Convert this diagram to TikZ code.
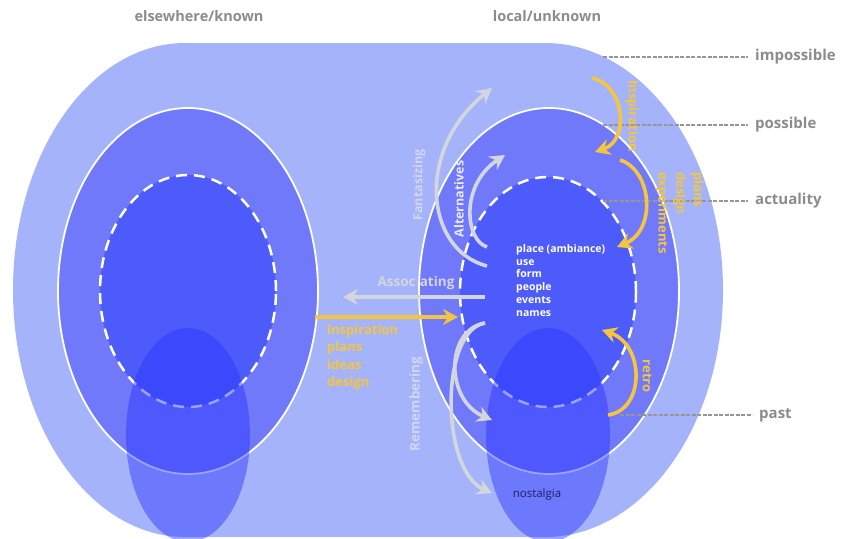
\documentclass[tikz,border=0pt]{standalone}
\usepackage{fontspec}
\setmainfont{Open Sans}
\usetikzlibrary{arrows.meta}
\definecolor{outerc}{RGB}{165,180,250}
\definecolor{midc}{RGB}{112,121,250}
\definecolor{innerc}{RGB}{76,91,250}
\definecolor{pastc}{RGB}{40,50,255}
\definecolor{graytxt}{RGB}{140,140,140}
\definecolor{arrgray}{RGB}{212,214,222}
\definecolor{paletxt}{RGB}{210,214,238}
\definecolor{yel}{RGB}{245,197,62}
\definecolor{navy}{RGB}{30,30,100}
\definecolor{leader}{RGB}{150,150,150}
\begin{document}
\begin{tikzpicture}[x=1pt,y=-1pt,
  tipstyle/.style={-{Stealth[length=15pt,width=16pt,inset=5pt]}},
  garrow/.style={draw=arrgray,line width=3.6pt,tipstyle},
  yarrow/.style={draw=yel,line width=3.6pt,tipstyle},
  leaderline/.style={draw=leader,line width=2pt,dash pattern=on 4pt off 1.5pt},
  toplabel/.style={text=graytxt,font=\bfseries\fontsize{14.5}{17}\selectfont,inner sep=0pt},
  levellabel/.style={text=graytxt,font=\bfseries\fontsize{15}{18}\selectfont,anchor=west,inner sep=0pt},
  midring/.style={fill=midc,draw=white,line width=1.8pt},
  innerring/.style={fill=innerc,draw=white,line width=2.5pt,dash pattern=on 11pt off 7pt},
  pastblob/.style={fill=pastc,fill opacity=0.45},
  paletext/.style={text=paletxt,font=\bfseries\fontsize{12.5}{15}\selectfont,inner sep=0pt},
  yeltext/.style={text=yel,font=\bfseries\fontsize{13}{17.6}\selectfont,inner sep=0pt}
]
\useasboundingbox (0,0) rectangle (850,538);
\fill[white] (0,0) rectangle (850,538);
% outer shape
\fill[outerc] (185,290) ellipse [x radius=172pt, y radius=247pt];
\fill[outerc] (545,290) ellipse [x radius=178pt, y radius=247pt];
\fill[outerc] (185,43) rectangle (545,537);
% left side
\draw[midring] (188,291) ellipse [x radius=130pt, y radius=183pt];
\draw[innerring] (188,291) ellipse [x radius=88pt, y radius=116pt];
\fill[pastblob] (188,435) ellipse [x radius=62pt, y radius=107pt];
% right side
\draw[midring] (549,291) ellipse [x radius=130pt, y radius=183pt];
\draw[innerring] (548,292) ellipse [x radius=88pt, y radius=115pt];
\fill[pastblob] (548,435) ellipse [x radius=62pt, y radius=107pt];
% level leader lines
\coordinate (impS) at (603,57);  \coordinate (impE) at (748,57);
\coordinate (posS) at (603,125); \coordinate (posE) at (748,125);
\coordinate (actS) at (603,201); \coordinate (actE) at (748,201);
\coordinate (pasS) at (620,415); \coordinate (pasE) at (752,415);
\draw[leaderline] (impS) -- (impE);
\draw[leaderline] (posS) -- (posE);
\draw[leaderline] (actS) -- (actE);
\draw[leaderline] (pasS) -- (pasE);
\node[levellabel] (limp) at (755,57) {impossible};
\node[levellabel] (lpos) at (755,125) {possible};
\node[levellabel] (lact) at (755,201) {actuality};
\node[levellabel] (lpas) at (759,415) {past};
% top labels
\node[toplabel] (known) at (199,16) {elsewhere/known};
\node[toplabel] (unknown) at (547,16) {local/unknown};
% inner list
\node[anchor=north west,align=left,inner sep=0pt,text=white,font=\bfseries\fontsize{10.5}{12.9}\selectfont] (list) at (516,244)
  {place (ambiance)\\use\\form\\people\\events\\names};
% left yellow list
\node[yeltext,anchor=north west,align=left] (ylist) at (327,324) {inspiration\\plans\\ideas\\design};
% nostalgia
\node[text=navy,font=\fontsize{11.5}{14}\selectfont,inner sep=0pt] (nost) at (537,495) {nostalgia};
% gray arrows
\coordinate (fanS) at (487,266); \coordinate (fanE) at (492,88);
\coordinate (altS) at (487,247); \coordinate (altE) at (505,155);
\coordinate (remS) at (485,323); \coordinate (remAE) at (492,420); \coordinate (remBE) at (492,493);
\coordinate (assS) at (485,297); \coordinate (assE) at (343,297);
\draw[garrow] (fanS) .. controls (425,250) and (415,150) .. (fanE);
\draw[garrow] (altS) .. controls (465,240) and (460,185) .. (altE);
\draw[garrow] (remS) .. controls (445,330) and (445,400) .. (remAE);
\draw[garrow] (remS) .. controls (440,330) and (440,470) .. (remBE);
\draw[garrow] (assS) -- (assE);
\node[text=arrgray,font=\bfseries\fontsize{13.5}{16}\selectfont,inner sep=0pt] (assoc) at (416,283) {Assoc\hphantom{i}ating};
\node[paletext,rotate=90] (fant) at (419,185) {Fantasizing};
\node[paletext,rotate=90,text=white!85!midc] (alter) at (459,199) {Alternatives};
\node[paletext,rotate=90,font=\bfseries\fontsize{13.5}{16}\selectfont] (remem) at (416,404) {Remembering};
% yellow arrows
\coordinate (yinS) at (315,317); \coordinate (yinE) at (458,317);
\coordinate (y1S) at (592,78);  \coordinate (y1E) at (595,152);
\coordinate (y2S) at (620,160); \coordinate (y2E) at (617,247);
\coordinate (y3S) at (608,415); \coordinate (y3E) at (602,330);
\draw[yarrow] (yinS) -- (yinE);
\draw[yarrow] (y1S) .. controls (625,85) and (630,140) .. (y1E);
\draw[yarrow] (y2S) .. controls (652,170) and (657,230) .. (y2E);
\draw[yarrow] (y3S) .. controls (645,410) and (645,345) .. (y3E);
\node[yeltext,rotate=-90] (insp) at (632,116) {Inspiration};
\node[yeltext,rotate=-90,anchor=north west,align=left] (plans) at (704,172) {plans\\design\\experiments};
\node[yeltext,rotate=-90] (retro) at (647,376) {retro};
\end{tikzpicture}
\end{document}
